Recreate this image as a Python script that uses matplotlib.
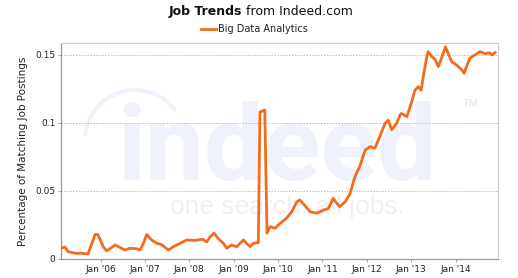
import matplotlib
matplotlib.use("Agg")
import matplotlib.pyplot as plt
from matplotlib.patches import Arc
from matplotlib.lines import Line2D

# ---- data (decimal years, share of postings) ----
years = [2005.11, 2005.20, 2005.27, 2005.43, 2005.58, 2005.72, 2005.80, 2005.88, 2005.94, 2005.99,
         2006.06, 2006.14, 2006.21, 2006.33, 2006.44, 2006.55, 2006.66, 2006.82, 2006.89, 2006.96,
         2007.04, 2007.15, 2007.27, 2007.38, 2007.53, 2007.64, 2007.79, 2007.94, 2008.13, 2008.31,
         2008.39, 2008.47, 2008.56, 2008.65, 2008.77, 2008.84, 2008.95, 2009.07, 2009.14, 2009.22,
         2009.29, 2009.37, 2009.44, 2009.52, 2009.555, 2009.59, 2009.70, 2009.75, 2009.82, 2009.93,
         2010.04, 2010.19, 2010.31, 2010.42, 2010.49, 2010.61, 2010.72, 2010.87, 2011.02, 2011.13,
         2011.24, 2011.32, 2011.39, 2011.51, 2011.62, 2011.73, 2011.84, 2011.96, 2012.07, 2012.18,
         2012.29, 2012.41, 2012.48, 2012.56, 2012.67, 2012.75, 2012.78, 2012.90, 2013.01, 2013.08,
         2013.16, 2013.22, 2013.27, 2013.35, 2013.38, 2013.46, 2013.53, 2013.61, 2013.68, 2013.77,
         2013.83, 2013.91, 2014.02, 2014.14, 2014.19, 2014.25, 2014.32, 2014.43, 2014.55, 2014.66,
         2014.77, 2014.81, 2014.89]
values = [0.0079, 0.0088, 0.0054, 0.0042, 0.0042, 0.0037, 0.011, 0.018, 0.018, 0.0145,
          0.009, 0.006, 0.0075, 0.0103, 0.0085, 0.0066, 0.0079, 0.0075, 0.0066, 0.011,
          0.018, 0.014, 0.0115, 0.0105, 0.0066, 0.009, 0.0115, 0.014, 0.0137, 0.0145,
          0.0125, 0.0164, 0.019, 0.015, 0.0115, 0.0079, 0.0103, 0.009, 0.0115, 0.014,
          0.0115, 0.009, 0.0115, 0.012, 0.012, 0.108, 0.1095, 0.019, 0.0238, 0.0226,
          0.026, 0.030, 0.0348, 0.042, 0.0434, 0.039, 0.0348, 0.0336, 0.036, 0.037,
          0.0446, 0.041, 0.0385, 0.042, 0.048, 0.0605, 0.068, 0.080, 0.0826, 0.0814,
          0.090, 0.0998, 0.102, 0.095, 0.0998, 0.106, 0.107, 0.1046, 0.1157, 0.124,
          0.1267, 0.124, 0.134, 0.1488, 0.1524, 0.1488, 0.147, 0.1414, 0.1476, 0.156,
          0.1512, 0.145, 0.1426, 0.139, 0.1365, 0.142, 0.1476, 0.150, 0.1524, 0.151,
          0.1515, 0.150, 0.1517]
series_name = "Big Data Analytics"
tick_years = [2006, 2007, 2008, 2009, 2010, 2011, 2012, 2013, 2014]
tick_labels = ["Jan '06", "Jan '07", "Jan '08", "Jan '09", "Jan '10",
               "Jan '11", "Jan '12", "Jan '13", "Jan '14"]
y_ticks = [0, 0.05, 0.1, 0.15]
y_labels = ["0", "0.05", "0.1", "0.15"]

ORANGE = "#f26c1c"
plt.rcParams['font.family'] = ['DejaVu Sans']

fig = plt.figure(figsize=(5.18, 2.78), dpi=100)
ax = fig.add_axes([61/518, 19/278, 437/518, 216.3/278])

# watermark
ax.text(0.128, 0.365, "indeed", transform=ax.transAxes, fontsize=76, fontweight='bold',
        family='Roboto', color='#f0f2fb', ha='left', va='baseline', zorder=0.2)
ax.text(0.249, 0.21, "one search. all jobs.", transform=ax.transAxes, fontsize=19,
        family='Liberation Sans', color='#f0f0f3', ha='left', va='baseline', zorder=0.2)
ax.text(0.92, 0.74, "TM", transform=ax.transAxes, fontsize=8, family='Liberation Sans',
        color='#e6e6ec', ha='left', va='top', zorder=0.2)
ax.add_patch(Arc(((135-61)/437, (259-140)/216.3), 100/437, 100/216.3, theta1=55, theta2=170,
                 transform=ax.transAxes, color='#f0f2fb', lw=3, zorder=0.2))

for yv in y_ticks[1:]:
    ax.axhline(yv, color='#bdbdbd', lw=0.7, ls=(0, (1.5, 1.5)), zorder=1)

ax.plot(years, values, color=ORANGE, lw=2.0, zorder=3, solid_joinstyle='round')

ax.set_xlim(2005.11, 2014.953)
ax.set_ylim(0, 0.159)
ax.set_xticks(tick_years)
ax.set_xticklabels(tick_labels, fontsize=6.5, color='#222222')
ax.set_yticks(y_ticks)
ax.set_yticklabels(y_labels, fontsize=6.5, color='#222222')
ax.tick_params(axis='both', length=2, width=0.6, color='#999999', pad=2)
ax.set_ylabel("Percentage of Matching Job Postings", fontsize=7.5, color='#222222', labelpad=5)

for s in ['top', 'right']:
    ax.spines[s].set_color('#cccccc')
    ax.spines[s].set_linewidth(0.8)
for s in ['left', 'bottom']:
    ax.spines[s].set_color('#999999')
    ax.spines[s].set_linewidth(0.9)

# title
fig.text(242/518, 1 - 11.7/278, "Job Trends", fontsize=9, fontweight='bold',
         ha='right', va='center', color='#111111')
fig.text(246/518, 1 - 11.7/278, "from Indeed.com", fontsize=9,
         ha='left', va='center', color='#111111')
# legend
fig.add_artist(Line2D([201/518, 216/518], [1 - 29/278, 1 - 29/278], color=ORANGE, lw=2.0,
                      transform=fig.transFigure))
fig.text(218/518, 1 - 29/278, series_name, fontsize=7, ha='left', va='center', color='#222222')

fig.savefig("out.png", dpi=100)
